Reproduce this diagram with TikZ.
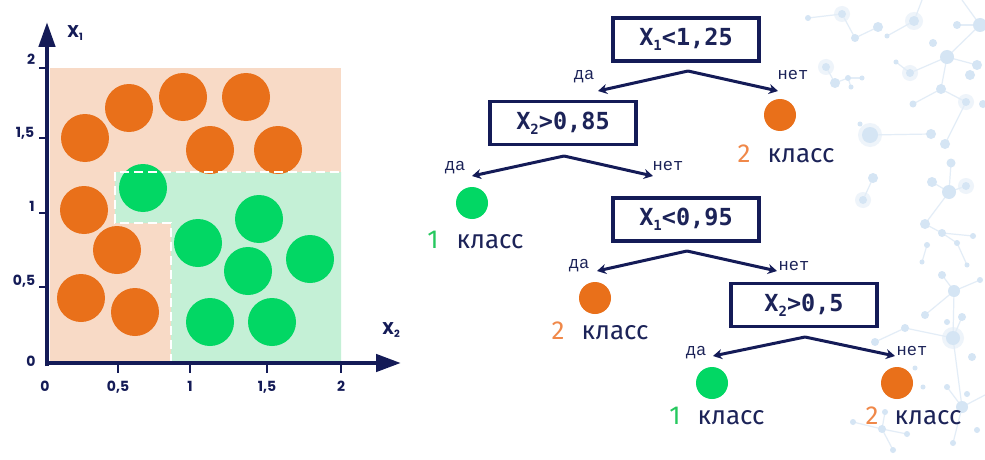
\documentclass[tikz,border=0pt]{standalone}
\usepackage{fontspec}
\setmainfont{Fira Sans}
\newfontfamily\monob{DejaVu Sans Mono}
\newfontfamily\labmono{Liberation Mono}
\newfontfamily\axf{Poppins}
\usetikzlibrary{arrows.meta}
\definecolor{navy}{HTML}{141B57}
\definecolor{txt}{HTML}{1C2358}
\definecolor{orgC}{HTML}{E9701A}
\definecolor{grnC}{HTML}{02D764}
\definecolor{orgR}{HTML}{F8DAC6}
\definecolor{grnR}{HTML}{C4F0D6}
\definecolor{digA}{HTML}{25C85E}
\definecolor{digB}{HTML}{F08849}
\definecolor{netC}{HTML}{D5E5F4}
\definecolor{netL}{HTML}{E3EDF7}
\definecolor{netR}{HTML}{EEF4FA}
\newcommand\sbx[1]{\raisebox{-0.2em}{\fontsize{14}{14}\selectfont #1}}
\newcommand\sbax[1]{\raisebox{-0.15em}{\fontsize{10}{10}\selectfont #1}}
\begin{document}
\begin{tikzpicture}[x=1pt,y=-1pt,
  axisline/.style={navy, line width=4.5pt},
  tickline/.style={navy, line width=2pt},
  ticklab/.style={text=navy, font=\axf\bfseries\fontsize{14}{14}\selectfont, inner sep=0pt, text height=10pt, text depth=0pt},
  axlab/.style={text=navy, font=\axf\bfseries\fontsize{17}{17}\selectfont, inner sep=0pt},
  dot/.style={circle, inner sep=0pt, minimum size=48pt},
  testbox/.style={draw=navy, line width=3.4pt, minimum width=146pt, minimum height=43pt, inner sep=0pt,
     text=txt, font=\monob\bfseries\fontsize{23.5}{23.5}\selectfont},
  branch/.style={navy, line width=3pt, -{Stealth[length=9pt,width=10pt]}},
  yesno/.style={text=txt, font=\labmono\fontsize{17}{17}\selectfont, inner sep=0pt, text height=8pt, text depth=0pt},
  leaf/.style={circle, inner sep=0pt, minimum size=32pt},
  cls/.style={text=txt, font=\fontsize{26}{26}\selectfont, inner sep=0pt, anchor=base},
  num/.style={font=\fontsize{26}{26}\selectfont, inner sep=0pt, anchor=base},
  netline/.style={netL, line width=1.2pt}
]
\fill[white] (0,0) rectangle (985,460);
\useasboundingbox (0,0) rectangle (985,460);

% ---------- faint network background ----------
\foreach \x/\y/\r in {842/14/4,914/21/5,910/73/4,966/102/4,826/67/4,870/135/8,966/186/4,863/200/4,953/338/7}
  \fill[netR] (\x,\y) circle (\r+4);
\foreach \a/\b/\c/\d in {808/18/842/14, 842/14/855/38, 855/38/878/27, 887/36/914/21, 914/21/922/0,
   957/25/980/25, 980/25/947/57, 980/25/962/0, 947/57/910/73, 910/73/896/62, 947/57/977/65, 947/57/941/89,
   941/89/913/104, 941/89/966/102, 966/102/945/144, 870/135/931/134, 826/67/835/83, 835/83/848/78,
   848/78/862/78, 848/78/851/87, 949/192/932/182, 949/192/966/186, 949/192/951/163, 949/192/925/224,
   873/178/863/200, 942/233/957/243, 957/243/967/265, 927/245/922/262, 942/275/954/291, 954/291/925/315,
   954/291/953/338, 980/280/954/291, 953/338/962/407, 962/317/953/338, 953/338/905/328, 905/328/875/342,
   962/407/947/387, 962/407/953/443, 962/407/985/395, 885/412/882/429, 882/429/893/450, 882/429/907/434,
   853/422/882/429, 925/224/942/233, 942/233/973/236}
  \draw[netline] (\a,\b) -- (\c,\d);
\foreach \x/\y/\r in {808/18/3,842/14/4,855/38/4,878/27/5,887/36/2.5,914/21/5,933/43/4,957/25/4,980/25/7,
   947/57/7,977/65/5,970/75/5,910/73/4,896/62/2.5,941/89/5,913/104/3.5,966/102/4,983/104/4,826/67/4,
   835/83/5,848/78/3,862/78/2.5,851/87/2.5,860/124/2.5,870/135/8,931/134/5,945/144/5,951/163/4.5,
   932/182/5,949/192/7,966/186/4,873/178/5,863/200/4,925/224/5,942/233/4,973/236/3,957/243/3,927/245/3,
   922/262/2.5,967/265/2.5,942/275/4,980/280/3,954/291/6,925/315/4,962/317/4,947/322/3,905/328/4,
   875/342/4,953/338/7,972/357/4,915/368/2.5,923/387/2.5,947/387/3,962/407/6,967/394/3,885/412/3,
   853/422/3,882/429/4,907/434/3,953/443/3,893/450/3,977/430/3}
  \fill[netC] (\x,\y) circle (\r);

% ---------- scatter plot ----------
\fill[orgR] (50,68) rectangle (341,363);
\fill[grnR] (115,172) -- (341,172) -- (341,363) -- (171,363) -- (171,223) -- (115,223) -- cycle;
\foreach \x/\y [count=\i] in {85/138,129/108,183/97,246/97,210/150,278/150,84/210,117/250,81/298,135/312}
  \node[dot, fill=orgC] (o\i) at (\x,\y) {};
\foreach \x/\y [count=\i] in {143/188,259/219,198/243,248/271,310/259,210/322,272/322}
  \node[dot, fill=grnC] (g\i) at (\x,\y) {};
\draw[white, line width=2.8pt, dash pattern=on 9pt off 5pt]
  (171,363) -- (171,223) -- (115,223) -- (115,172) -- (341,172);

% axes
\coordinate (O) at (47,363);
\coordinate (Oy) at (47,366);
\coordinate (Ox) at (45,363);
\coordinate (ytip) at (47,22);
\coordinate (xtip) at (401,363);
\draw[axisline, -{Triangle[length=25pt,width=16pt]}] (Oy) -- (ytip);
\draw[axisline, -{Triangle[length=25pt,width=17pt]}] (Ox) -- (xtip);
\foreach \y in {68,138,213,287}
  \draw[tickline] (39,\y) -- (47,\y);
\foreach \x in {118,190,267,341}
  \draw[tickline] (\x,363) -- (\x,373);
\node[ticklab] (ly2) at (31,59) {2};
\node[ticklab] (ly15) at (25,132) {1,5};
\node[ticklab] (ly1) at (32,206) {1};
\node[ticklab] (ly05) at (24,280) {0,5};
\node[ticklab] (ly0) at (31,361) {0};
\node[ticklab] (lx0) at (45,386) {0};
\node[ticklab] (lx05) at (118,386) {0,5};
\node[ticklab] (lx1) at (190,386) {1};
\node[ticklab] (lx15) at (267,386) {1,5};
\node[ticklab] (lx2) at (341,386) {2};
\node[axlab] (X1) at (75,33) {X\sbax{1}};
\node[axlab] (X2) at (391,330) {X\sbax{2}};

% ---------- decision tree ----------
\node[testbox] (b1) at (686,39.5) {X\sbx{1}<1,25};
\node[testbox] (b2) at (563,123) {X\sbx{2}>0,85};
\node[testbox] (b3) at (686,219.5) {X\sbx{1}<0,95};
\node[testbox] (b4) at (804,305) {X\sbx{2}>0,5};

\coordinate (a1) at (688,71);
\coordinate (a2) at (564,156);
\coordinate (a3) at (687,251);
\coordinate (a4) at (805,337);
\coordinate (t1l) at (598,91);  \coordinate (t1r) at (778,91);
\coordinate (t2l) at (472,176); \coordinate (t2r) at (653,176);
\coordinate (t3l) at (597,271); \coordinate (t3r) at (777,271);
\coordinate (t4l) at (713,356); \coordinate (t4r) at (895,356);
\draw[branch] (a1) -- (t1l); \draw[branch] (a1) -- (t1r);
\draw[branch] (a2) -- (t2l); \draw[branch] (a2) -- (t2r);
\draw[branch] (a3) -- (t3l); \draw[branch] (a3) -- (t3r);
\draw[branch] (a4) -- (t4l); \draw[branch] (a4) -- (t4r);

\node[yesno] (y1) at (584,75) {да};  \node[yesno] (n1) at (793,75) {нет};
\node[yesno] (y2) at (455,166) {да}; \node[yesno] (n2) at (668,166) {нет};
\node[yesno] (y3) at (579,264) {да}; \node[yesno] (n3) at (794,266) {нет};
\node[yesno] (y4) at (696,351) {да}; \node[yesno] (n4) at (912,351) {нет};

\node[leaf, fill=orgC] (c1) at (780,115) {};
\node[leaf, fill=grnC] (c2) at (472,203) {};
\node[leaf, fill=orgC] (c3) at (595,298) {};
\node[leaf, fill=grnC] (c4) at (712,383) {};
\node[leaf, fill=orgC] (c5) at (897,383) {};

\node[num, text=digB] (d1) at (744,162) {2}; \node[cls] (k1) at (801,162) {класс};
\node[num, text=digA] (d2) at (433,248) {1}; \node[cls] (k2) at (490,248) {класс};
\node[num, text=digB] (d3) at (558,339) {2}; \node[cls] (k3) at (615,339) {класс};
\node[num, text=digA] (d4) at (675,424) {1}; \node[cls] (k4) at (731,424) {класс};
\node[num, text=digB] (d5) at (872,424) {2}; \node[cls] (k5) at (928,424) {класс};
\end{tikzpicture}
\end{document}
